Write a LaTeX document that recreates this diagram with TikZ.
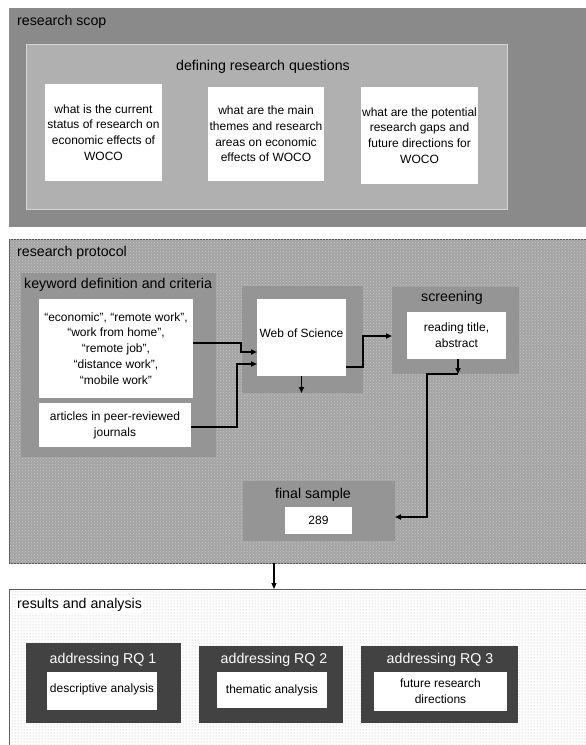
\documentclass[tikz,border=0pt]{standalone}
\usepackage{fontspec}
\setmainfont{Liberation Sans}
\usetikzlibrary{patterns,arrows.meta}
\definecolor{scopout}{HTML}{8A8A8A}
\definecolor{scopin}{HTML}{B0B0B0}
\definecolor{scopinline}{HTML}{D6D6D6}
\definecolor{protobg}{HTML}{A4A4A4}
\definecolor{protodot}{HTML}{C6C6C6}
\definecolor{grpgray}{HTML}{959595}
\definecolor{rqdark}{HTML}{424242}
\definecolor{frame}{HTML}{555555}
\tikzset{
  box/.style={rectangle, inner sep=0pt, outer sep=0pt},
  wbox/.style={box, fill=white, align=center, font=\fontsize{12}{15.8}\selectfont},
  grp/.style={box, fill=grpgray},
  ttl/.style={inner sep=0pt, font=\fontsize{14.2}{16}\selectfont},
  rqt/.style={inner sep=0pt, text=white, font=\fontsize{14.2}{16}\selectfont},
  arr/.style={draw=black, line width=1.6pt, -{Triangle[length=6pt,width=5pt]}},
}
\begin{document}
\begin{tikzpicture}[x=1pt,y=-1pt]
\useasboundingbox (0,0) rectangle (586,745);
\fill[white] (0,0) rectangle (586,745);

% ---------- research scop ----------
\node[box, fill=scopout, minimum width=577, minimum height=219] (scop) at (297.5,117.5) {};
\node[ttl, anchor=west] (scopt) at (17,22) {research scop};
\node[box, fill=scopin, draw=scopinline, line width=0.8pt, minimum width=481, minimum height=165] (rqin) at (266.5,126.5) {};
\node[ttl] (rqt) at (263,67) {defining research questions};
\node[wbox, minimum width=117, minimum height=97] (q1) at (103.5,132.5) {what is the current\\status of research on\\economic effects of\\WOCO};
\node[wbox, minimum width=116, minimum height=94] (q2) at (266,134) {what are the main\\themes and research\\areas on economic\\effects of WOCO};
\node[wbox, minimum width=117, minimum height=97] (q3) at (419.5,135.5) {what are the potential\\research gaps and\\future directions for\\WOCO};

% ---------- research protocol ----------
\node[box, fill=protobg, draw=frame, line width=0.8pt, minimum width=577, minimum height=324,
      postaction={pattern=crosshatch dots, pattern color=protodot}] (proto) at (297.5,401) {};
\node[ttl, anchor=west] (protot) at (17,253) {research protocol};

\node[grp, minimum width=195, minimum height=184] (kwg) at (118.5,365) {};
\node[ttl, anchor=west] (kwt) at (24,285) {keyword definition and criteria};
\node[wbox, minimum width=154, minimum height=99] (kw) at (116,348.5) {“economic”, “remote work”,\\“work from home”,\\“remote job”,\\“distance work”,\\“mobile work”};
\node[wbox, minimum width=152, minimum height=44] (art) at (115,425) {articles in peer-reviewed\\journals};

\node[grp, minimum width=121, minimum height=107] (wosg) at (302.5,339.5) {};
\node[wbox, minimum width=89, minimum height=77, text depth=8pt] (wos) at (301.5,337.5) {Web of Science};

\node[grp, minimum width=127, minimum height=87] (scrg) at (455.5,330.5) {};
\node[ttl] (scrt) at (452,298) {screening};
\node[wbox, minimum width=99, minimum height=47] (read) at (456.5,335.5) {reading title,\\abstract};

\node[grp, minimum width=152, minimum height=60] (fing) at (319,511) {};
\node[ttl] (fint) at (313,495) {final sample};
\node[wbox, minimum width=67, minimum height=27] (fin) at (318.5,520.5) {289};

% ---------- results and analysis ----------
\node[box, fill=white, draw=frame, line width=0.8pt, minimum width=577, minimum height=157,
      postaction={pattern=dots, pattern color=gray!60}] (res) at (297.5,667.5) {};
\node[ttl, anchor=west, fill=white, inner sep=1pt] (rest) at (16,605) {results and analysis};

\node[box, fill=rqdark, minimum width=155, minimum height=80] (r1) at (103.5,683) {};
\node[rqt] (r1t) at (103,660) {addressing RQ 1};
\node[wbox, minimum width=110, minimum height=38, text depth=6pt] (a1) at (102,691) {descriptive analysis};

\node[box, fill=rqdark, minimum width=144, minimum height=77] (r2) at (271,684.5) {};
\node[rqt] (r2t) at (274,660) {addressing RQ 2};
\node[wbox, minimum width=110, minimum height=36] (a2) at (272,690) {thematic analysis};

\node[box, fill=rqdark, minimum width=157, minimum height=77] (r3) at (439.5,684.5) {};
\node[rqt] (r3t) at (440,660) {addressing RQ 3};
\node[wbox, minimum width=133, minimum height=39] (a3) at (440.5,691.5) {future research\\directions};

% ---------- connectors ----------
\coordinate (k1) at (241,343);
\draw[arr] ([yshift=5.5pt]kw.east) -- (k1) |- ([yshift=-14.5pt]wos.west);
\coordinate (k2) at (237,427);
\draw[arr] ([yshift=-2pt]art.east) -- (k2) |- ([yshift=-26.5pt]wos.west);
\coordinate (w1) at (363,367);
\draw[arr] ([yshift=-29.5pt]wos.east) -- (w1) |- ([yshift=-5.5pt]scrg.west);
\draw[arr] (wos.south) -- (wos.south |- wosg.south);
\coordinate (s1) at (458,374);
\draw[arr] (read.south -| s1) -- (s1);
\coordinate (s2) at (427,374);
\draw[arr] (s1) -- (s2) |- ([yshift=-6pt]fing.east);
\coordinate (p1) at (274,563);
\draw[arr, line width=1.1pt] (p1) -- (p1 |- res.north);
\end{tikzpicture}
\end{document}
